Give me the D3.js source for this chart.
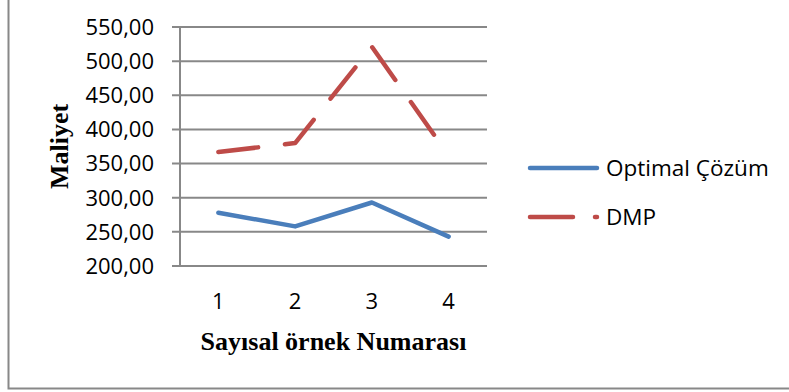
<!DOCTYPE html>
<html><head><meta charset="utf-8">
<script src="https://cdn.jsdelivr.net/npm/d3@7"></script>
<style>body{margin:0;background:#fff}svg{display:block}</style>
</head><body>
<svg id="c" width="789" height="392"></svg>
<script>
const categories = ["1","2","3","4"];
const optimal = [278, 258, 293, 243];
const dmp = [367, 380, 521, 362];
const yTicks = [200,250,300,350,400,450,500,550];
const seriesNames = ["Optimal Çözüm","DMP"];
const colors = ["#4A7EBB","#BE4B48"];

const svg = d3.select("#c");
const L=180, R=487, T=27, B=266;
const x = d3.scaleBand().domain(categories).range([L,R]);
const y = d3.scaleLinear().domain([200,550]).range([B,T]);
const cx = d => x(d)+x.bandwidth()/2;
const fmt = v => d3.format(".2f")(v).replace(".",",");
const grid="#888888";

// frame
svg.append("path").attr("d","M8.5,0 V388.5 H789").attr("fill","none").attr("stroke",grid).attr("stroke-width",2);

// gridlines
svg.append("g").selectAll("line").data(yTicks).join("line")
  .attr("x1",L-8).attr("x2",R).attr("y1",d=>y(d)).attr("y2",d=>y(d))
  .attr("stroke",grid).attr("stroke-width",2);
// y axis line
svg.append("line").attr("x1",L).attr("x2",L).attr("y1",T).attr("y2",B).attr("stroke",grid).attr("stroke-width",2);

// y tick labels
svg.append("g").selectAll("text").data(yTicks).join("text")
  .attr("x",L-26).attr("y",d=>y(d)).attr("dy","0.36em").attr("text-anchor","end")
  .attr("font-family","Open Sans").attr("font-size",22).attr("fill","#000").text(fmt);
// x tick labels
svg.append("g").selectAll("text").data(categories).join("text")
  .attr("x",d=>cx(d)).attr("y",309).attr("text-anchor","middle")
  .attr("font-family","Open Sans").attr("font-size",22).attr("fill","#000").text(d=>d);

// axis titles
svg.append("text").attr("x",(L+R)/2).attr("y",350).attr("text-anchor","middle")
  .attr("font-family","Liberation Serif").attr("font-weight","bold").attr("font-size",26).text("Sayısal örnek Numarası");
svg.append("text").attr("transform",`translate(68,${(T+B)/2}) rotate(-90)`).attr("text-anchor","middle")
  .attr("font-family","Liberation Serif").attr("font-weight","bold").attr("font-size",26).text("Maliyet");

const line = d3.line().x((d,i)=>cx(categories[i])).y(d=>y(d));
svg.append("path").datum(optimal).attr("d",line).attr("fill","none").attr("stroke",colors[0])
  .attr("stroke-width",4.5).attr("stroke-linejoin","round").attr("stroke-linecap","round");
svg.append("path").datum(dmp).attr("d",line).attr("fill","none").attr("stroke",colors[1])
  .attr("stroke-width",4.5).attr("stroke-linejoin","round").attr("stroke-linecap","round")
  .attr("stroke-dasharray","40,27");

// legend
const lg = svg.append("g");
[168,217].forEach((ly,i)=>{
  lg.append("line").attr("x1",530).attr("x2",597).attr("y1",ly).attr("y2",ly)
    .attr("stroke",colors[i]).attr("stroke-width",4.5).attr("stroke-linecap","round")
    .attr("stroke-dasharray",i===1?"43,22":null);
  lg.append("text").attr("x",606).attr("y",ly).attr("dy","0.36em")
    .attr("font-family","Open Sans").attr("font-size",22.5).attr("fill","#000").text(seriesNames[i]);
});
</script>
</body></html>
